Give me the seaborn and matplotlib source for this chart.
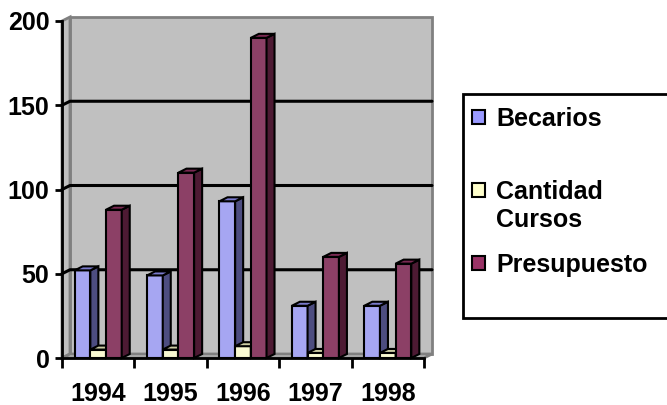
import pandas as pd
import matplotlib
matplotlib.use("Agg")
import matplotlib.pyplot as plt
from matplotlib.patches import Polygon, Rectangle
import seaborn as sns

# datos
years = ["1994", "1995", "1996", "1997", "1998"]
becarios = [52, 49, 93, 31, 31]
cursos = [5, 5, 7, 3, 3]
presupuesto = [88, 110, 190, 60, 56]
series = ["Becarios", "Cantidad Cursos", "Presupuesto"]
legend_labels = ["Becarios", "Cantidad\nCursos", "Presupuesto"]
y_ticks = [0, 50, 100, 150, 200]

front = {"Becarios": "#9999FF", "Cantidad Cursos": "#FFFFCC", "Presupuesto": "#993366"}
side = {"Becarios": "#4D4D80", "Cantidad Cursos": "#808066", "Presupuesto": "#4D1A33"}
top = {"Becarios": "#7A7ACC", "Cantidad Cursos": "#CCCCA3", "Presupuesto": "#7A2952"}

df = pd.DataFrame({
    "year": years * 3,
    "serie": [s for s in series for _ in years],
    "valor": becarios + cursos + presupuesto,
})

sns.set_style("white")
plt.rcParams["font.family"] = ["Liberation Sans", "DejaVu Sans"]
plt.rcParams["font.weight"] = "bold"
plt.rcParams["text.color"] = "black"
plt.rcParams["xtick.color"] = "black"
plt.rcParams["ytick.color"] = "black"

W, H = 667, 405
fig = plt.figure(figsize=(W / 100, H / 100), dpi=100)
# eje frontal en pixeles: x 62..424, y 21..358
ax = fig.add_axes([62 / W, 1 - 358 / H, (424 - 62) / W, (358 - 21) / H])
ax.set_facecolor("none")

sns.barplot(data=df, x="year", y="valor", hue="serie", hue_order=series,
            palette=front, width=0.65, edgecolor="black", linewidth=1.5,
            legend=False, ax=ax)

ax.set_xlim(-0.5, 4.5)
ax.set_ylim(0, 200)

# profundidad 3D en unidades de datos
DX_PX, DY_PX = 8, 4
bb = ax.get_window_extent()
dx = DX_PX * 5 / bb.width
dy = DY_PX * 200 / bb.height
x0, x1 = -0.5, 4.5

# pared de fondo, pared lateral y piso
wall_kw = dict(facecolor="#C0C0C0", edgecolor="#808080", linewidth=2, clip_on=False)
ax.add_patch(Polygon([(x0 + dx, dy), (x0 + dx, 200 + dy), (x1 + dx, 200 + dy), (x1 + dx, dy)],
                     zorder=0.1, **wall_kw))
ax.add_patch(Polygon([(x0, 0), (x0, 200), (x0 + dx, 200 + dy), (x0 + dx, dy)],
                     zorder=0.2, **wall_kw))
ax.add_patch(Polygon([(x0, 0), (x1, 0), (x1 + dx, dy), (x0 + dx, dy)],
                     zorder=0.2, **wall_kw))

# lineas de grilla sobre la pared
for v in y_ticks[1:-1]:
    ax.plot([x0, x0 + dx, x1 + dx], [v, v + dy, v + dy], color="black",
            linewidth=2.2, zorder=0.5, clip_on=False)

# caras laterales y superiores de cada barra
bars = []
for name, cont in zip(series, ax.containers):
    for p in cont.patches:
        bars.append((p.get_x(), name, p))
bars.sort(key=lambda b: b[0])
for i, (_, name, p) in enumerate(bars):
    z = 2 + i * 0.1
    bx0 = p.get_x()
    bx1 = bx0 + p.get_width()
    h = p.get_height()
    p.set_zorder(z)
    ax.add_patch(Polygon([(bx1, 0), (bx1, h), (bx1 + dx, h + dy), (bx1 + dx, dy)],
                         facecolor=side[name], edgecolor="black", linewidth=1.5,
                         zorder=z + 0.01, clip_on=False))
    ax.add_patch(Polygon([(bx0, h), (bx1, h), (bx1 + dx, h + dy), (bx0 + dx, h + dy)],
                         facecolor=top[name], edgecolor="black", linewidth=1.5,
                         zorder=z + 0.02, clip_on=False))

# ejes
for s in ["top", "right"]:
    ax.spines[s].set_visible(False)
for s in ["left", "bottom"]:
    ax.spines[s].set_color("black")
    ax.spines[s].set_linewidth(2)
    ax.spines[s].set_zorder(5)
ax.set_yticks(y_ticks)
ax.set_xticks(range(len(years)))
ax.set_xticklabels(years)
ax.set_xticks([i - 0.5 for i in range(len(years) + 1)], minor=True)
ax.tick_params(axis="y", which="major", direction="out", length=5, width=2,
               color="black", labelsize=18, pad=4, left=True)
ax.tick_params(axis="x", which="major", length=0, labelsize=18, pad=17)
ax.tick_params(axis="x", which="minor", direction="out", length=7, width=2,
               color="black", bottom=True)
for lab in ax.get_xticklabels() + ax.get_yticklabels():
    lab.set_fontweight("bold")
    lab.set_color("black")
ax.set_xlabel("")
ax.set_ylabel("")


# leyenda
def fx(x):
    return x / W


def fy(y):
    return 1 - y / H


fig.patches.append(Rectangle((fx(463), fy(318)), fx(700) - fx(463), fy(94) - fy(318),
                             transform=fig.transFigure, facecolor="white",
                             edgecolor="black", linewidth=2, figure=fig))
leg_y = [117, 190, 263]
for name, lab, yy in zip(series, legend_labels, leg_y):
    fig.patches.append(Rectangle((fx(472), fy(yy + 7)), fx(485) - fx(472), fy(yy - 7) - fy(yy + 7),
                                 transform=fig.transFigure, facecolor=front[name],
                                 edgecolor="black", linewidth=1.5, figure=fig))
    fig.text(fx(496), fy(yy - 10), lab, fontsize=18, fontweight="bold",
             va="top", ha="left", linespacing=1.2, color="black")

fig.savefig("out.png", dpi=100)
